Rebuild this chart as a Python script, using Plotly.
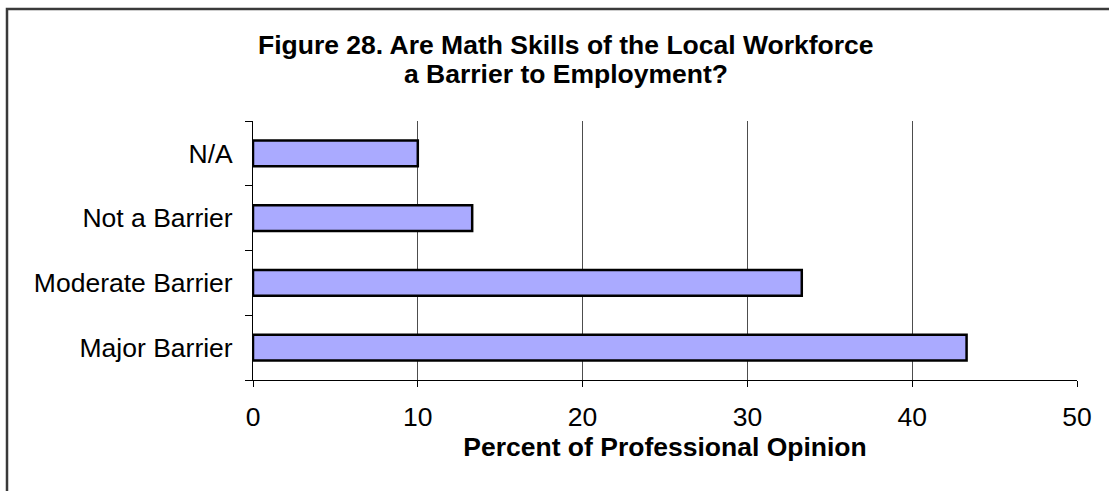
import plotly.graph_objects as go

# Survey responses, top of chart first
categories = ["N/A", "Not a Barrier", "Moderate Barrier", "Major Barrier"]
percents = [10.0, 13.3, 33.3, 43.3]
x_ticks = [0, 10, 20, 30, 40, 50]
title_lines = [
    "Figure 28. Are Math Skills of the Local Workforce",
    "a Barrier to Employment?",
]

W, H = 1109, 491
L, R, T, B = 253, 32, 121, 111
pw, ph = W - L - R, H - T - B

fig = go.Figure(
    go.Bar(
        y=categories,
        x=percents,
        orientation="h",
        marker=dict(color="#AAAAFF", line=dict(color="#000000", width=2.5)),
        hoverinfo="x+y",
    )
)

font_family = "Liberation Sans, Arial, sans-serif"

fig.update_layout(
    width=W,
    height=H,
    margin=dict(l=L, r=R, t=T, b=B, pad=0),
    paper_bgcolor="white",
    plot_bgcolor="white",
    bargap=0.6,
    showlegend=False,
    font=dict(family=font_family, size=26.5, color="black"),
    xaxis=dict(
        range=[0, 50],
        tickvals=x_ticks,
        showgrid=True,
        gridcolor="#4d4d4d",
        gridwidth=1,
        zeroline=False,
        showline=True,
        linecolor="#000000",
        linewidth=1,
        ticks="outside",
        ticklen=6,
        tickcolor="#000000",
        ticklabelstandoff=7,
        tickfont=dict(size=26.5),
        title=dict(
            text="<b>Percent of Professional Opinion</b>",
            standoff=4,
            font=dict(size=26.5),
        ),
        fixedrange=True,
    ),
    yaxis=dict(
        categoryorder="array",
        categoryarray=categories[::-1],
        showline=True,
        linecolor="#000000",
        linewidth=1,
        ticks="outside",
        tickson="boundaries",
        ticklen=7,
        tickcolor="#000000",
        ticklabelstandoff=14,
        tickfont=dict(size=26.5),
        showgrid=False,
        fixedrange=True,
    ),
)

# Two-line bold heading, placed line by line for tight spacing
for line, y_px in zip(title_lines, [45, 74]):
    fig.add_annotation(
        text=f"<b>{line}</b>",
        xref="paper",
        yref="paper",
        x=(566 - L) / pw,
        y=(H - B - y_px) / ph,
        xanchor="center",
        yanchor="middle",
        showarrow=False,
        font=dict(family=font_family, size=26.5, color="black"),
    )

# Frame around the whole figure (right and bottom edges run off the page)
fig.add_shape(
    type="rect",
    xref="paper",
    yref="paper",
    x0=(7 - L) / pw,
    x1=(1120 - L) / pw,
    y0=(H - B - 500) / ph,
    y1=(H - B - 9) / ph,
    line=dict(color="#3a3a3a", width=2.5),
    fillcolor="rgba(0,0,0,0)",
    layer="below",
)

fig.write_html("out.html", config={"displayModeBar": False})
